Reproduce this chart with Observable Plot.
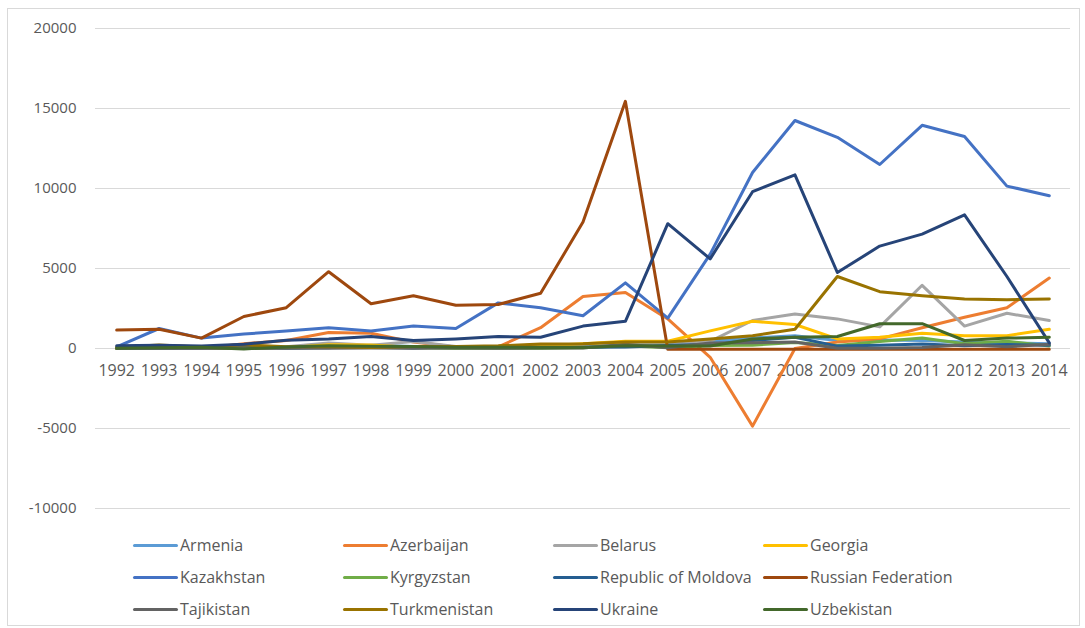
<!DOCTYPE html>
<html>
<head>
<meta charset="utf-8">
<script src="https://cdn.jsdelivr.net/npm/d3@7"></script>
<script src="https://cdn.jsdelivr.net/npm/@observablehq/plot@0.6"></script>
<style>
  body { margin: 0; background: #fff; font-family: "Open Sans", sans-serif; }
  #frame { position: absolute; left: 7px; top: 8px; width: 1073px; height: 618px; border: 1px solid #d9d9d9; box-sizing: border-box; }
  #chart { position: absolute; left: 0; top: 0; }
  #legend { position: absolute; left: 125px; top: 520px; display: grid; grid-template-columns: repeat(4, 210px); grid-auto-rows: 32px; }
  .item { display: flex; align-items: center; font-size: 16px; color: #595959; white-space: nowrap; }
  .sw { width: 45px; height: 3px; border-radius: 2px; margin-right: 2px; }
</style>
</head>
<body>
<div id="frame"><div id="chart"></div><div id="legend"></div></div>
<script>
const years = [1992,1993,1994,1995,1996,1997,1998,1999,2000,2001,2002,2003,2004,2005,2006,2007,2008,2009,2010,2011,2012,2013,2014];
const countries = ["Armenia","Azerbaijan","Belarus","Georgia","Kazakhstan","Kyrgyzstan","Republic of Moldova","Russian Federation","Tajikistan","Turkmenistan","Ukraine","Uzbekistan"];
const colors = ["#5B9BD5","#ED7D31","#A5A5A5","#FFC000","#4472C4","#70AD47","#255E91","#9E480E","#636363","#997300","#264478","#43682B"];
const yTicks = [-10000,-5000,0,5000,10000,15000,20000];

const armenia     = [20,10,10,20,20,50,200,120,100,70,110,120,220,240,450,660,800,500,530,500,400,350,300];
const azerbaijan  = [0,0,0,300,500,1000,950,400,100,100,1300,3250,3500,1850,-550,-4850,0,400,600,1300,1950,2550,4400];
const belarus     = [7,18,11,15,105,350,200,440,120,96,250,170,160,200,450,1750,2150,1850,1350,3950,1400,2200,1750];
const georgia     = [0,0,8,6,54,236,221,60,131,110,160,300,450,450,1100,1700,1500,600,700,950,800,800,1200];
const kazakhstan  = [100,1250,650,900,1100,1300,1100,1400,1250,2850,2550,2050,4100,1900,5900,11000,14250,13200,11500,13950,13250,10150,9550];
const kyrgyzstan  = [0,10,40,100,50,80,110,40,0,5,5,45,175,40,180,210,380,190,440,650,300,450,150];
const moldova     = [17,14,12,67,24,79,76,38,128,105,84,74,88,191,259,500,700,150,200,288,175,250,200];
const russia      = [1150,1200,650,2000,2550,4800,2800,3300,2700,2750,3450,7900,15450,-50,-50,-50,-50,-50,-50,-50,-50,-50,-50];
const tajikistan  = [9,9,12,10,18,18,25,21,24,9,36,32,272,54,339,360,400,16,8,70,233,108,263];
const turkmenistan= [79,220,100,230,108,108,62,125,131,170,276,300,400,400,600,800,1200,4500,3550,3300,3100,3050,3100];
const ukraine     = [170,200,150,270,520,600,750,500,600,750,700,1400,1700,7800,5600,9800,10850,4750,6400,7150,8350,4500,350];
const uzbekistan  = [9,48,73,-24,90,167,140,121,75,83,65,70,177,150,150,600,700,750,1550,1550,500,650,700];

const seriesValues = [armenia,azerbaijan,belarus,georgia,kazakhstan,kyrgyzstan,moldova,russia,tajikistan,turkmenistan,ukraine,uzbekistan];

const rows = [];
countries.forEach((c, i) => years.forEach((yr, j) => rows.push({country: c, year: yr, value: seriesValues[i][j]})));

const font = "'Open Sans', sans-serif";
const chart = Plot.plot({
  width: 1071,
  height: 510,
  marginTop: 19,
  marginBottom: 11,
  marginLeft: 87,
  marginRight: 9,
  style: {fontFamily: font, background: "transparent"},
  x: {domain: [1991.5, 2014.5], axis: null},
  y: {domain: [-10000, 20000], axis: null},
  color: {domain: countries, range: colors},
  marks: [
    Plot.gridY(yTicks, {stroke: "#d9d9d9", strokeOpacity: 1, strokeWidth: 1}),
    Plot.axisY(yTicks, {tickSize: 0, tickPadding: 19, tickFormat: d => String(d), fontSize: 15, fill: "#595959", label: null}),
    Plot.text(years, {x: d => d, y: () => 0, dy: 22, text: d => String(d), fontSize: 16, fill: "#595959"}),
    Plot.line(rows, {x: "year", y: "value", z: "country", stroke: "country", strokeWidth: 3, strokeLinejoin: "round", strokeLinecap: "round"})
  ]
});
document.getElementById("chart").appendChild(chart);

const legend = document.getElementById("legend");
countries.forEach((c, i) => {
  const it = document.createElement("div");
  it.className = "item";
  const sw = document.createElement("span");
  sw.className = "sw";
  sw.style.background = colors[i];
  const t = document.createElement("span");
  t.textContent = c;
  it.appendChild(sw); it.appendChild(t);
  legend.appendChild(it);
});
</script>
</body>
</html>
